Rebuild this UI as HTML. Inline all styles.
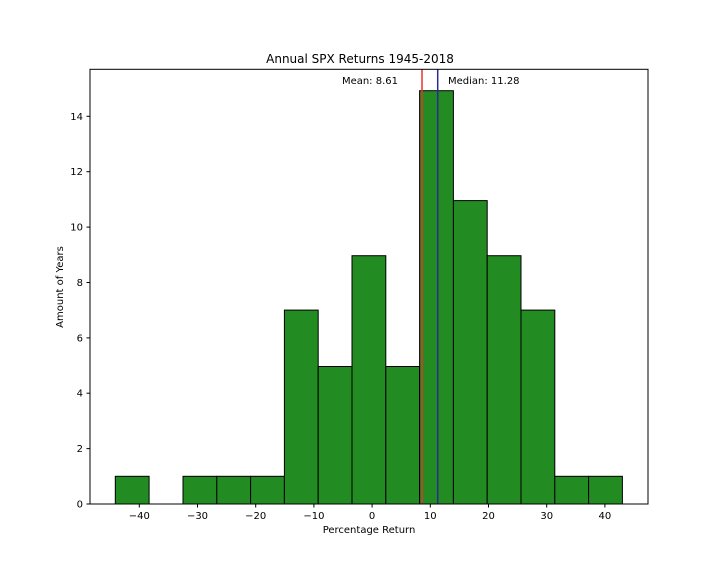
<!DOCTYPE html>
<html><head><meta charset="utf-8"><style>body{margin:0;background:#fff}svg{display:block}text{font-family:"DejaVu Sans","Liberation Sans",sans-serif;font-size:10px;fill:#000}</style></head><body>
<svg width="720" height="576" xmlns="http://www.w3.org/2000/svg">
<g fill="#228b22" stroke="#000" stroke-width="1">
<rect x="115.3" y="476.3" width="33.8" height="27.7"/>
<rect x="183.0" y="476.3" width="33.8" height="27.7"/>
<rect x="216.8" y="476.3" width="33.8" height="27.7"/>
<rect x="250.6" y="476.3" width="33.8" height="27.7"/>
<rect x="284.4" y="310.1" width="33.8" height="193.9"/>
<rect x="318.2" y="366.5" width="33.8" height="137.5"/>
<rect x="352.0" y="255.7" width="33.8" height="248.3"/>
<rect x="385.8" y="366.5" width="33.8" height="137.5"/>
<rect x="419.6" y="90.7" width="33.8" height="413.3"/>
<rect x="453.4" y="200.6" width="33.8" height="303.4"/>
<rect x="487.2" y="255.7" width="33.8" height="248.3"/>
<rect x="521.0" y="310.1" width="33.8" height="193.9"/>
<rect x="554.8" y="476.3" width="33.8" height="27.7"/>
<rect x="588.6" y="476.3" width="33.8" height="27.7"/>
</g>
<line x1="422" y1="69" x2="422" y2="504" stroke="#f03030" stroke-width="1.5"/>
<line x1="437.7" y1="69" x2="437.7" y2="504" stroke="#2a2a90" stroke-width="1.5"/>
<rect x="90" y="69.3" width="558" height="434.7" fill="none" stroke="#000" stroke-width="1"/>
<text x="360" y="63" text-anchor="middle" font-size="12" style="font-size:12px">Annual SPX Returns 1945-2018</text>
<text x="398" y="84" text-anchor="end">Mean: 8.61</text>
<text x="448" y="84">Median: 11.28</text>
<g stroke="#000">
<line x1="139.3" y1="504" x2="139.3" y2="507.5"/><line x1="197.5" y1="504" x2="197.5" y2="507.5"/><line x1="255.7" y1="504" x2="255.7" y2="507.5"/><line x1="313.9" y1="504" x2="313.9" y2="507.5"/><line x1="372.1" y1="504" x2="372.1" y2="507.5"/><line x1="430.3" y1="504" x2="430.3" y2="507.5"/><line x1="488.5" y1="504" x2="488.5" y2="507.5"/><line x1="546.7" y1="504" x2="546.7" y2="507.5"/><line x1="604.9" y1="504" x2="604.9" y2="507.5"/>
<line x1="86.5" y1="504" x2="90" y2="504"/><line x1="86.5" y1="448.6" x2="90" y2="448.6"/><line x1="86.5" y1="393.2" x2="90" y2="393.2"/><line x1="86.5" y1="337.9" x2="90" y2="337.9"/><line x1="86.5" y1="282.5" x2="90" y2="282.5"/><line x1="86.5" y1="227.1" x2="90" y2="227.1"/><line x1="86.5" y1="171.7" x2="90" y2="171.7"/><line x1="86.5" y1="116.3" x2="90" y2="116.3"/>
</g>
<g text-anchor="middle">
<text x="139.3" y="519">−40</text><text x="197.5" y="519">−30</text><text x="255.7" y="519">−20</text><text x="313.9" y="519">−10</text><text x="372.1" y="519">0</text><text x="430.3" y="519">10</text><text x="488.5" y="519">20</text><text x="546.7" y="519">30</text><text x="604.9" y="519">40</text>
</g>
<g text-anchor="end">
<text x="83" y="507.5">0</text><text x="83" y="452">2</text><text x="83" y="396.7">4</text><text x="83" y="341.4">6</text><text x="83" y="286">8</text><text x="83" y="230.6">10</text><text x="83" y="175.2">12</text><text x="83" y="119.8">14</text>
</g>
<text x="369" y="533" text-anchor="middle">Percentage Return</text>
<text transform="translate(63,287) rotate(-90)" text-anchor="middle">Amount of Years</text>
</svg>
</body></html>
